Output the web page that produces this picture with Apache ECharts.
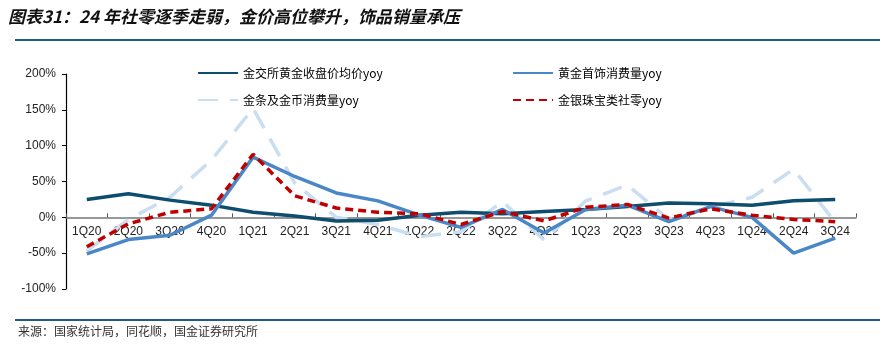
<!DOCTYPE html>
<html>
<head>
<meta charset="utf-8">
<script src="https://cdn.jsdelivr.net/npm/echarts@6/dist/echarts.min.js"></script>
<style>
html,body{margin:0;padding:0;background:#fff;}
#c{width:893px;height:345px;}
</style>
</head>
<body>
<div id="c"></div>
<script>
const categories = ['1Q20','2Q20','3Q20','4Q20','1Q21','2Q21','3Q21','4Q21','1Q22','2Q22','3Q22','4Q22','1Q23','2Q23','3Q23','4Q23','1Q24','2Q24','3Q24'];
const goldPriceYoy = [25,33,24,17,7,2,-5,-4,3,7,5,8,11,15,20,19,17,23,25];
const jewelryYoy = [-51,-31,-25,3,84,57,34,23,3,-14,11,-22,11,17,-6,15,0,-50,-29];
const barCoinYoy = [-47,-3,28,80,152,48,0,-10,-27,-20,22,-32,23,45,-3,14,28,67,-7];
const retailYoy = [-41,-9,7,12,88,30,13,7,5,-10,8,-5,14,18,-1,12,3,-3,-6];
const seriesNames = ['金交所黄金收盘价均价yoy','黄金首饰消费量yoy','金条及金币消费量yoy','金银珠宝类社零yoy'];
const yTicks = {min:-100, max:200, interval:50};

const gridTop = 74, gridBottom = 56, chartH = 345;
const plotH = chartH - gridTop - gridBottom;
const zeroOffset = -plotH * (0 - yTicks.min) / (yTicks.max - yTicks.min);

const chart = echarts.init(document.getElementById('c'));
const legendBase = {orient:'horizontal', itemWidth:40, itemHeight:4, itemGap:10,
  itemStyle:{opacity:0},
  textStyle:{fontSize:12, color:'#000', fontFamily:'"Noto Sans CJK SC", sans-serif'}};
chart.setOption({
  animation:false,
  backgroundColor:'#fff',
  graphic:[
    {type:'text', left:8, top:8, style:{text:'图表31：24 年社零逐季走弱，金价高位攀升，饰品销量承压', fontSize:17, fontWeight:'bold', fontStyle:'italic', fill:'#111', fontFamily:'"Noto Sans CJK SC", sans-serif'}},
    {type:'line', shape:{x1:15, y1:40, x2:880, y2:40}, style:{stroke:'#1d5a86', lineWidth:2}},
    {type:'line', shape:{x1:15, y1:320, x2:880, y2:320}, style:{stroke:'#1d5a86', lineWidth:2}},
    {type:'text', left:18, top:325, style:{text:'来源：国家统计局，同花顺，国金证券研究所', fontSize:12, fill:'#333', fontFamily:'"Noto Sans CJK SC", sans-serif'}}
  ],
  legend:[
    Object.assign({}, legendBase, {data:[seriesNames[0]], left:192, top:62}),
    Object.assign({}, legendBase, {data:[seriesNames[1]], left:507, top:62}),
    Object.assign({}, legendBase, {data:[seriesNames[2]], left:192, top:89}),
    Object.assign({}, legendBase, {data:[seriesNames[3]], left:507, top:89})
  ],
  grid:{left:66, right:37, top:gridTop, bottom:gridBottom, containLabel:false},
  xAxis:{
    type:'category', data:categories, boundaryGap:true, position:'bottom', offset:zeroOffset,
    axisLine:{onZero:false, lineStyle:{color:'#777', width:1.5}},
    axisTick:{show:true, inside:true, length:4, lineStyle:{color:'#555'}},
    axisLabel:{color:'#222', fontSize:12, margin:8, interval:0, fontFamily:'"Liberation Sans", Arial, sans-serif'},
    splitLine:{show:false}
  },
  yAxis:{
    type:'value', min:yTicks.min, max:yTicks.max, interval:yTicks.interval,
    axisLine:{show:true, lineStyle:{color:'#000', width:1.2}},
    axisTick:{show:true, length:4, lineStyle:{color:'#000'}},
    axisLabel:{formatter:'{value}%', color:'#222', fontSize:12, margin:10, fontFamily:'"Liberation Sans", Arial, sans-serif'},
    splitLine:{show:false}
  },
  series:[
    {name:seriesNames[2], type:'line', data:barCoinYoy, symbol:'none', z:1,
      lineStyle:{color:'#c9def1', width:3.5, type:[20,12]}, itemStyle:{color:'#c9def1'}},
    {name:seriesNames[0], type:'line', data:goldPriceYoy, symbol:'none', z:2,
      lineStyle:{color:'#0e4d6e', width:3.5}, itemStyle:{color:'#0e4d6e'}},
    {name:seriesNames[1], type:'line', data:jewelryYoy, symbol:'none', z:3,
      lineStyle:{color:'#4a87c6', width:3.5}, itemStyle:{color:'#4a87c6'}},
    {name:seriesNames[3], type:'line', data:retailYoy, symbol:'none', z:4,
      lineStyle:{color:'#c00000', width:3.5, type:[8,5]}, itemStyle:{color:'#c00000'}}
  ]
});
</script>
</body>
</html>
